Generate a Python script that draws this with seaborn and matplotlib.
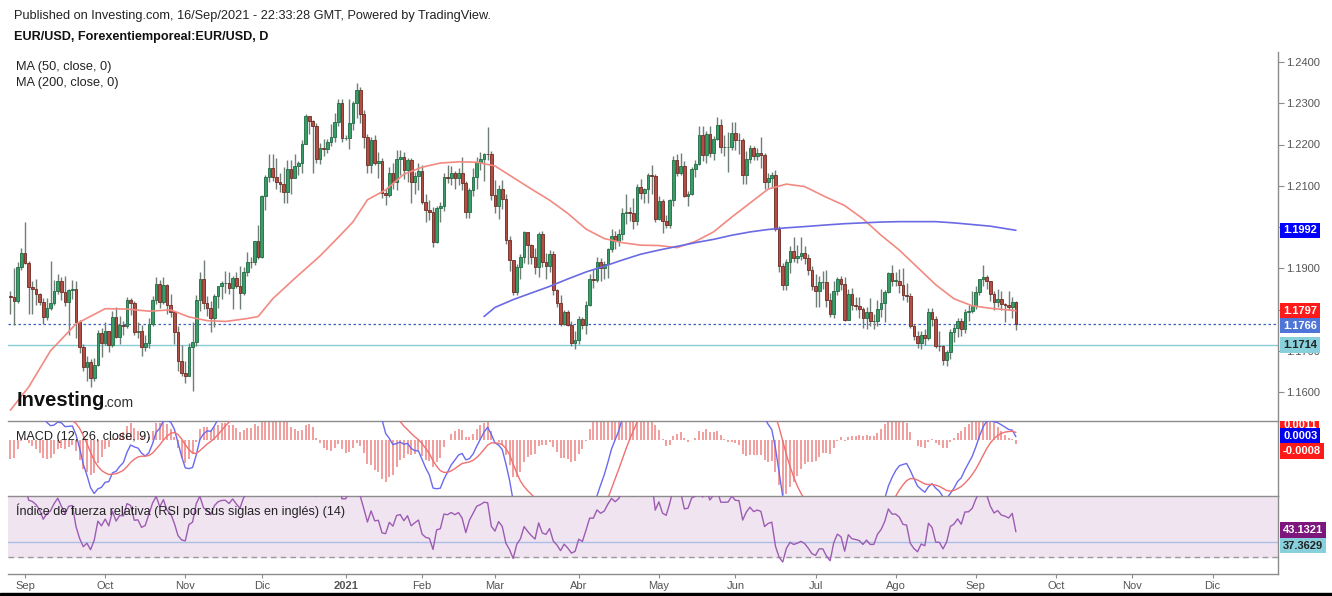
import numpy as np
import pandas as pd
import matplotlib
matplotlib.use("Agg")
import matplotlib.pyplot as plt
from matplotlib.patches import Rectangle
import seaborn as sns

# ---------------------------------------------------------------- data
START_DATE = "2020-08-26"
END_DATE = "2021-09-16"
AXIS_END_DATE = "2021-12-31"
FIRST_OPEN = 1.1832

close = [
    1.1830, 1.1821, 1.1904, 1.1938,
    1.1912, 1.1854, 1.1849, 1.1838, 1.1819, 1.1781, 1.1803, 1.1815, 1.1846, 1.1870, 1.1843,
    1.1817, 1.1847, 1.1850, 1.1770, 1.1710, 1.1661, 1.1673, 1.1633, 1.1665, 1.1742, 1.1718,
    1.1748, 1.1714, 1.1783, 1.1734, 1.1762, 1.1760, 1.1823, 1.1815, 1.1746, 1.1748, 1.1710,
    1.1718, 1.1766, 1.1823, 1.1863, 1.1819, 1.1859, 1.1811, 1.1795, 1.1746, 1.1674, 1.1645,
    1.1639, 1.1710, 1.1722, 1.1823, 1.1874, 1.1815, 1.1803, 1.1779, 1.1832, 1.1856, 1.1864,
    1.1865, 1.1852, 1.1876, 1.1857, 1.1841, 1.1892, 1.1916, 1.1914, 1.1965, 1.1928,
    1.2074, 1.2122, 1.2144, 1.2122, 1.2110, 1.2105, 1.2084, 1.2141, 1.2118, 1.2147, 1.2155,
    1.2202, 1.2269, 1.2258, 1.2245, 1.2164, 1.2191, 1.2190, 1.2207, 1.2219, 1.2254, 1.2300, 1.2215,
    1.2215, 1.2252, 1.2300, 1.2331, 1.2274, 1.2219, 1.2151, 1.2211, 1.2156, 1.2159, 1.2083,
    1.2078, 1.2132, 1.2110, 1.2164, 1.2169, 1.2138, 1.2162, 1.2110, 1.2124, 1.2136,
    1.2061, 1.2041, 1.2036, 1.1964, 1.2045, 1.2050, 1.2122, 1.2119, 1.2130, 1.2120,
    1.2130, 1.2106, 1.2037, 1.2090, 1.2122, 1.2158, 1.2166, 1.2178, 1.2176, 1.2077,
    1.2051, 1.2091, 1.2067, 1.1968, 1.1920, 1.1843, 1.1903, 1.1928, 1.1988, 1.1956, 1.1928,
    1.1904, 1.1983, 1.1916, 1.1906, 1.1934, 1.1847, 1.1815, 1.1766, 1.1795, 1.1763, 1.1720, 1.1727,
    1.1778, 1.1762, 1.1812, 1.1873, 1.1872, 1.1916, 1.1900, 1.1911, 1.1947, 1.1979, 1.1966,
    1.1983, 1.2035, 1.2036, 1.2033, 1.2015, 1.2097, 1.2083, 1.2091, 1.2126, 1.2123, 1.2020,
    1.2062, 1.2014, 1.2004, 1.2065, 1.2163, 1.2131, 1.2149, 1.2075, 1.2079, 1.2140, 1.2152,
    1.2223, 1.2175, 1.2226, 1.2180, 1.2214, 1.2248, 1.2193, 1.2193, 1.2194, 1.2229,
    1.2212, 1.2211, 1.2127, 1.2166, 1.2191, 1.2172, 1.2179, 1.2174, 1.2108, 1.2120, 1.2125,
    1.1995, 1.1906, 1.1860, 1.1915, 1.1941, 1.1925, 1.1930, 1.1937, 1.1924, 1.1895, 1.1858,
    1.1846, 1.1866, 1.1866, 1.1822, 1.1790, 1.1845, 1.1875, 1.1861, 1.1775, 1.1837, 1.1812,
    1.1808, 1.1802, 1.1780, 1.1794, 1.1771, 1.1771, 1.1801, 1.1816, 1.1842, 1.1888, 1.1870,
    1.1870, 1.1860, 1.1836, 1.1833, 1.1761, 1.1735, 1.1718, 1.1738, 1.1730, 1.1795, 1.1778,
    1.1712, 1.1711, 1.1677, 1.1697, 1.1746, 1.1754, 1.1772, 1.1752, 1.1795, 1.1796, 1.1808,
    1.1843, 1.1874, 1.1880, 1.1868, 1.1838, 1.1818, 1.1826, 1.1813, 1.1810, 1.1805, 1.1817, 1.1764,
]

high = [
    1.1845, 1.1901, 1.1916, 1.1950,
    1.2011, 1.1917, 1.1870, 1.1873, 1.1840, 1.1829, 1.1827, 1.1917, 1.1872, 1.1887, 1.1878,
    1.1882, 1.1850, 1.1871, 1.1870, 1.1775, 1.1716, 1.1688, 1.1679, 1.1683, 1.1750, 1.1754,
    1.1770, 1.1742, 1.1797, 1.1806, 1.1784, 1.1772, 1.1831, 1.1829, 1.1820, 1.1770, 1.1763,
    1.1738, 1.1779, 1.1833, 1.1880, 1.1871, 1.1880, 1.1861, 1.1838, 1.1797, 1.1760, 1.1713,
    1.1675, 1.1720, 1.1770, 1.1834, 1.1891, 1.1920, 1.1833, 1.1820, 1.1838, 1.1858, 1.1870,
    1.1893, 1.1891, 1.1881, 1.1890, 1.1906, 1.1904, 1.1940, 1.1928, 1.1965, 1.2004,
    1.2077, 1.2127, 1.2176, 1.2178, 1.2167, 1.2130, 1.2146, 1.2163, 1.2163, 1.2177, 1.2161,
    1.2212, 1.2273, 1.2270, 1.2260, 1.2252, 1.2203, 1.2213, 1.2213, 1.2250, 1.2276, 1.2310, 1.2310,
    1.2222, 1.2310, 1.2305, 1.2349, 1.2340, 1.2283, 1.2226, 1.2218, 1.2223, 1.2182, 1.2167,
    1.2095, 1.2145, 1.2154, 1.2187, 1.2187, 1.2183, 1.2167, 1.2168, 1.2133, 1.2155,
    1.2150, 1.2081, 1.2065, 1.2049, 1.2050, 1.2060, 1.2130, 1.2150, 1.2149, 1.2136,
    1.2144, 1.2169, 1.2112, 1.2095, 1.2144, 1.2169, 1.2181, 1.2180, 1.2243, 1.2184,
    1.2114, 1.2103, 1.2114, 1.2080, 1.1978, 1.1920, 1.1910, 1.1934, 1.1990, 1.1989, 1.1958,
    1.1948, 1.1989, 1.1990, 1.1937, 1.1944, 1.1941, 1.1850, 1.1834, 1.1799, 1.1799, 1.1771, 1.1747,
    1.1785, 1.1783, 1.1820, 1.1887, 1.1897, 1.1928, 1.1926, 1.1918, 1.1949, 1.1996, 1.1990,
    1.1995, 1.2047, 1.2080, 1.2049, 1.2070, 1.2104, 1.2116, 1.2094, 1.2130, 1.2150, 1.2128,
    1.2075, 1.2067, 1.2030, 1.2069, 1.2171, 1.2177, 1.2180, 1.2160, 1.2088, 1.2146, 1.2162,
    1.2245, 1.2244, 1.2233, 1.2244, 1.2221, 1.2266, 1.2262, 1.2223, 1.2230, 1.2254,
    1.2254, 1.2229, 1.2216, 1.2185, 1.2200, 1.2196, 1.2192, 1.2218, 1.2180, 1.2131, 1.2134,
    1.2139, 1.2003, 1.1913, 1.1922, 1.1955, 1.1975, 1.1956, 1.1975, 1.1954, 1.1935, 1.1905,
    1.1885, 1.1882, 1.1894, 1.1895, 1.1840, 1.1868, 1.1880, 1.1881, 1.1880, 1.1849, 1.1852,
    1.1830, 1.1830, 1.1805, 1.1805, 1.1829, 1.1790, 1.1823, 1.1849, 1.1848, 1.1892, 1.1909,
    1.1892, 1.1899, 1.1900, 1.1864, 1.1840, 1.1765, 1.1749, 1.1748, 1.1752, 1.1804, 1.1804,
    1.1785, 1.1749, 1.1714, 1.1703, 1.1752, 1.1765, 1.1780, 1.1779, 1.1802, 1.1810, 1.1846,
    1.1857, 1.1875, 1.1909, 1.1884, 1.1870, 1.1845, 1.1850, 1.1845, 1.1815, 1.1845, 1.1830, 1.1820,
]

low = [
    1.1790, 1.1763, 1.1815, 1.1896,
    1.1910, 1.1789, 1.1790, 1.1811, 1.1810, 1.1765, 1.1774, 1.1799, 1.1810, 1.1838, 1.1822,
    1.1809, 1.1737, 1.1826, 1.1731, 1.1694, 1.1652, 1.1627, 1.1612, 1.1627, 1.1662, 1.1685,
    1.1713, 1.1696, 1.1709, 1.1731, 1.1716, 1.1737, 1.1756, 1.1786, 1.1739, 1.1731, 1.1688,
    1.1700, 1.1707, 1.1760, 1.1813, 1.1804, 1.1813, 1.1790, 1.1782, 1.1717, 1.1650, 1.1640,
    1.1622, 1.1638, 1.1603, 1.1711, 1.1797, 1.1801, 1.1785, 1.1745, 1.1757, 1.1803, 1.1825,
    1.1840, 1.1838, 1.1801, 1.1851, 1.1801, 1.1835, 1.1882, 1.1900, 1.1909, 1.1923,
    1.1924, 1.2041, 1.2110, 1.2111, 1.2092, 1.2084, 1.2058, 1.2059, 1.2080, 1.2118, 1.2125,
    1.2131, 1.2202, 1.2226, 1.2130, 1.2154, 1.2153, 1.2171, 1.2180, 1.2196, 1.2207, 1.2245, 1.2205,
    1.2210, 1.2190, 1.2235, 1.2264, 1.2252, 1.2192, 1.2131, 1.2130, 1.2150, 1.2120, 1.2070,
    1.2054, 1.2073, 1.2093, 1.2090, 1.2126, 1.2116, 1.2108, 1.2058, 1.2080, 1.2089,
    1.2056, 1.2011, 1.2016, 1.1952, 1.1961, 1.2012, 1.2040, 1.2107, 1.2101, 1.2091,
    1.2103, 1.2090, 1.2022, 1.2023, 1.2075, 1.2091, 1.2137, 1.2111, 1.2163, 1.2065,
    1.2033, 1.2019, 1.2043, 1.1958, 1.1893, 1.1835, 1.1836, 1.1875, 1.1912, 1.1910, 1.1910,
    1.1887, 1.1880, 1.1902, 1.1873, 1.1890, 1.1836, 1.1806, 1.1761, 1.1763, 1.1761, 1.1712, 1.1704,
    1.1717, 1.1752, 1.1741, 1.1808, 1.1853, 1.1867, 1.1870, 1.1873, 1.1876, 1.1940, 1.1947,
    1.1953, 1.1968, 1.2008, 1.2014, 1.1995, 1.2004, 1.2069, 1.2058, 1.2058, 1.2080, 1.2013,
    1.2016, 1.1986, 1.1998, 1.1998, 1.2050, 1.2123, 1.2125, 1.2072, 1.2051, 1.2077, 1.2121,
    1.2150, 1.2160, 1.2155, 1.2169, 1.2162, 1.2210, 1.2179, 1.2172, 1.2133, 1.2186,
    1.2187, 1.2176, 1.2104, 1.2104, 1.2156, 1.2162, 1.2162, 1.2144, 1.2093, 1.2092, 1.2095,
    1.1990, 1.1891, 1.1847, 1.1848, 1.1888, 1.1914, 1.1912, 1.1920, 1.1910, 1.1883, 1.1847,
    1.1807, 1.1807, 1.1849, 1.1806, 1.1781, 1.1780, 1.1836, 1.1847, 1.1772, 1.1780, 1.1800,
    1.1800, 1.1779, 1.1755, 1.1752, 1.1760, 1.1752, 1.1760, 1.1781, 1.1770, 1.1840, 1.1856,
    1.1858, 1.1840, 1.1822, 1.1817, 1.1756, 1.1727, 1.1707, 1.1705, 1.1715, 1.1727, 1.1759,
    1.1707, 1.1700, 1.1665, 1.1664, 1.1680, 1.1722, 1.1734, 1.1735, 1.1742, 1.1771, 1.1791,
    1.1801, 1.1835, 1.1857, 1.1850, 1.1820, 1.1800, 1.1805, 1.1800, 1.1770, 1.1800, 1.1780, 1.1751,
]

ma50_dates = [
    "2020-08-26", "2020-09-02", "2020-09-10", "2020-09-21", "2020-10-01", "2020-10-09",
    "2020-10-19", "2020-10-27", "2020-11-03", "2020-11-10", "2020-11-17", "2020-11-25",
    "2020-11-30", "2020-12-04", "2020-12-14", "2020-12-23", "2020-12-30", "2021-01-05",
    "2021-01-11", "2021-01-18", "2021-01-25", "2021-02-01", "2021-02-08", "2021-02-15",
    "2021-02-22", "2021-03-01", "2021-03-08", "2021-03-15", "2021-03-22", "2021-03-29",
    "2021-04-05", "2021-04-12", "2021-04-19", "2021-04-26", "2021-05-03", "2021-05-10",
    "2021-05-17", "2021-05-24", "2021-05-31", "2021-06-07", "2021-06-14", "2021-06-21",
    "2021-06-28", "2021-07-06", "2021-07-13", "2021-07-20", "2021-07-27", "2021-08-03",
    "2021-08-10", "2021-08-17", "2021-08-24", "2021-08-31", "2021-09-07", "2021-09-16",
]
ma50_values = [
    1.1556, 1.1612, 1.1700, 1.1765, 1.1802, 1.1801,
    1.1796, 1.1799, 1.1782, 1.1773, 1.1771, 1.1778,
    1.1783, 1.1826, 1.1875, 1.1930, 1.1975, 1.2012,
    1.2066, 1.2090, 1.2128, 1.2145, 1.2155, 1.2158,
    1.2157, 1.2148, 1.2120, 1.2092, 1.2065, 1.2033,
    1.1995, 1.1972, 1.1962, 1.1956, 1.1955, 1.1950,
    1.1965, 1.1988, 1.2024, 1.2058, 1.2092, 1.2104,
    1.2098, 1.2072, 1.2052, 1.2020, 1.1980, 1.1944,
    1.1902, 1.1860, 1.1826, 1.1809, 1.1803, 1.1797,
]

ma200_dates = [
    "2021-02-24", "2021-03-01", "2021-03-08", "2021-03-15", "2021-03-22", "2021-03-29",
    "2021-04-05", "2021-04-12", "2021-04-19", "2021-04-26", "2021-05-03", "2021-05-10",
    "2021-05-17", "2021-05-24", "2021-05-31", "2021-06-07", "2021-06-14", "2021-06-21",
    "2021-06-28", "2021-07-06", "2021-07-13", "2021-07-20", "2021-07-27", "2021-08-03",
    "2021-08-10", "2021-08-17", "2021-08-24", "2021-08-31", "2021-09-07", "2021-09-16",
]
ma200_values = [
    1.1783, 1.1805, 1.1824, 1.1840, 1.1856, 1.1874,
    1.1891, 1.1905, 1.1920, 1.1934, 1.1944, 1.1953,
    1.1962, 1.1970, 1.1980, 1.1988, 1.1994, 1.1998,
    1.2001, 1.2005, 1.2008, 1.2010, 1.2012, 1.2013,
    1.2013, 1.2013, 1.2010, 1.2006, 1.2002, 1.1992,
]

month_labels = ["Sep", "Oct", "Nov", "Dic", "2021", "Feb", "Mar", "Abr", "May",
                "Jun", "Jul", "Ago", "Sep", "Oct", "Nov", "Dic"]
price_ticks = [1.16, 1.17, 1.18, 1.19, 1.20, 1.21, 1.22, 1.23, 1.24]
# tick labels that sit fully behind a coloured value box in the reference
hidden_tick_labels = [1.18, 1.20]

# indicator states carried in from before the first visible bar
EMA12_SEED, EMA26_SEED, SIGNAL_SEED = 1.1822, 1.1790, 0.0047
RSI_GAIN_SEED, RSI_LOSS_SEED = 0.0020, 0.0012

last_price_level = 1.1766
support_level = 1.1714
rsi_ref_level = 37.3629
rsi_band = (30, 70)

main_labels = [("1.1992", 1.1992, "#0000ff", "white"),
               ("1.1797", 1.1797, "#ff1a1a", "white"),
               ("1.1766", 1.1766, "#5075d8", "white"),
               ("1.1714", 1.1714, "#88d0dc", "#222222")]
macd_labels = [("0.0011", 0.0011, "#ff1a1a", "white"),
               ("0.0003", 0.0003, "#0000ee", "white"),
               ("-0.0008", -0.0008, "#ff1a1a", "white")]
rsi_labels = [("43.1321", 43.1321, "#7d167d", "white"),
              ("37.3629", 37.3629, "#88d0dc", "#222222")]

header_1 = "Published on Investing.com, 16/Sep/2021 - 22:33:28 GMT, Powered by TradingView."
header_2 = "EUR/USD, Forexentiemporeal:EUR/USD, D"
ma_titles = ["MA (50, close, 0)", "MA (200, close, 0)"]
macd_title = "MACD (12, 26, close, 9)"
rsi_title = "Índice de fuerza relativa (RSI por sus siglas en inglés) (14)"

# ---------------------------------------------------------------- style
sns.set_theme(style="white")
plt.rcParams["font.family"] = ["Liberation Sans", "DejaVu Sans"]

GREEN, GREEN_EDGE = "#3a9d68", "#1f6b43"
RED, RED_EDGE = "#b24e44", "#6e2922"
WICK = "#6f7f76"
AXIS_C = "#8c8c8c"
TEXT_C = "#555555"
# vertical nudges (points) that keep neighbouring value boxes apart, as in the reference
LABEL_NUDGE = {"1.1766": -1.5, "37.3629": -2.8}

W, H = 1332, 596
fig = plt.figure(figsize=(W / 100, H / 100), dpi=100)
fig.patch.set_facecolor("white")


def rect(x0, y0, x1, y1):
    return [x0 / W, 1 - y1 / H, (x1 - x0) / W, (y1 - y0) / H]


ax = fig.add_axes(rect(8, 52, 1278, 421))
axm = fig.add_axes(rect(8, 421, 1278, 496))
axr = fig.add_axes(rect(8, 496, 1278, 574))

# ---------------------------------------------------------------- series
dates = pd.bdate_range(START_DATE, END_DATE)
full_dates = pd.bdate_range(START_DATE, AXIS_END_DATE)
x = np.arange(len(dates))
c = np.array(close)
o = np.r_[FIRST_OPEN, c[:-1]]
h = np.maximum(np.array(high), np.maximum(o, c))
l = np.minimum(np.array(low), np.minimum(o, c))

s = pd.Series(c)
ema12 = pd.concat([pd.Series([EMA12_SEED]), s]).ewm(span=12, adjust=False).mean().iloc[1:].values
ema26 = pd.concat([pd.Series([EMA26_SEED]), s]).ewm(span=26, adjust=False).mean().iloc[1:].values
macd = ema12 - ema26
signal = pd.concat([pd.Series([SIGNAL_SEED]), pd.Series(macd)]).ewm(span=9, adjust=False).mean().iloc[1:].values
hist = macd - signal

delta = c - o
gain = pd.concat([pd.Series([RSI_GAIN_SEED]), pd.Series(np.clip(delta, 0, None))])
loss = pd.concat([pd.Series([RSI_LOSS_SEED]), pd.Series(np.clip(-delta, 0, None))])
ag = gain.ewm(alpha=1 / 14, adjust=False).mean().iloc[1:].values
al = loss.ewm(alpha=1 / 14, adjust=False).mean().iloc[1:].values
rsi = 100 - 100 / (1 + ag / al)

# ---------------------------------------------------------------- layout constants
BAR_PX = 3.643
p_sep1 = full_dates.get_loc(pd.Timestamp("2020-09-01"))
xlim = (p_sep1 - (25 - 8) / BAR_PX, p_sep1 + (1278 - 25) / BAR_PX)
PX_PER_PRICE = 4125.0
ax.set_ylim(1.24 - (421 - 62) / PX_PER_PRICE, 1.24 + (62 - 52) / PX_PER_PRICE)
MACD_PX = 13900.0
axm.set_ylim(-(496 - 440) / MACD_PX, (440 - 421) / MACD_PX)
RSI_PX = 2.0
axr.set_ylim(30 - (574 - 556.5) / RSI_PX, 30 + (556.5 - 496) / RSI_PX)
for a in (ax, axm, axr):
    a.set_xlim(*xlim)

# ---------------------------------------------------------------- main panel
ax.vlines(x, l, h, color=WICK, lw=1.0, zorder=2)
up = c >= o
body = np.maximum(np.abs(c - o), 0.00006)
ax.bar(x[up], body[up], bottom=np.minimum(o, c)[up], width=0.74, color=GREEN,
       edgecolor=GREEN_EDGE, linewidth=0.6, zorder=3)
ax.bar(x[~up], body[~up], bottom=np.minimum(o, c)[~up], width=0.74, color=RED,
       edgecolor=RED_EDGE, linewidth=0.6, zorder=3)

ma50_x = full_dates.get_indexer(pd.to_datetime(ma50_dates))
ma200_x = full_dates.get_indexer(pd.to_datetime(ma200_dates))
sns.lineplot(x=ma50_x, y=ma50_values, ax=ax, color="#f28a82", linewidth=1.2, zorder=4)
sns.lineplot(x=ma200_x, y=ma200_values, ax=ax, color="#6a6ae4", linewidth=1.2, zorder=4)

ax.axhline(last_price_level, color="#3d5fc4", lw=0.9, ls=(0, (2, 2)), zorder=1)
ax.axhline(support_level, color="#86cdd9", lw=1.0, zorder=1)

# ---------------------------------------------------------------- MACD panel
axm.vlines(x, 0, hist, color="#ee8383", lw=1.1, zorder=2)
sns.lineplot(x=x, y=macd, ax=axm, color="#6a6aee", linewidth=1.0, zorder=3)
sns.lineplot(x=x, y=signal, ax=axm, color="#f07070", linewidth=1.0, zorder=3)

# ---------------------------------------------------------------- RSI panel
axr.axhspan(rsi_band[0], rsi_band[1], color="#f1e4f1", zorder=0)
axr.axhline(rsi_band[0], color="#9a9a9a", lw=1.0, ls=(0, (4, 3)), zorder=1)
axr.axhline(rsi_ref_level, color="#a9bfe6", lw=1.0, zorder=1)
sns.lineplot(x=x, y=rsi, ax=axr, color="#9c5cb2", linewidth=1.0, zorder=3)

# ---------------------------------------------------------------- axes styling
for a in (ax, axm, axr):
    a.set_facecolor("none")
    a.grid(False)
    a.set_xlabel("")
    a.set_ylabel("")
    if a.get_legend() is not None:
        a.get_legend().remove()
    for side in ("left", "top", "bottom"):
        a.spines[side].set_visible(False)
    a.spines["right"].set_visible(True)
    a.spines["right"].set_color(AXIS_C)
    a.spines["right"].set_linewidth(1.0)

axm.spines["top"].set_visible(True)
axr.spines["top"].set_visible(True)
axr.spines["bottom"].set_visible(True)
for a, sp in ((axm, "top"), (axr, "top"), (axr, "bottom")):
    a.spines[sp].set_color(AXIS_C)
    a.spines[sp].set_linewidth(1.0)

ax.yaxis.tick_right()
ax.set_yticks(price_ticks)
ax.set_yticklabels(["" if any(abs(v - hv) < 1e-9 for hv in hidden_tick_labels) else f"{v:.4f}"
                    for v in price_ticks])
ax.tick_params(axis="y", which="both", right=True, left=False, length=4, width=0.8,
               color=AXIS_C, labelcolor=TEXT_C, labelsize=8, pad=2)
for a in (axm, axr):
    a.set_yticks([])

month_starts = full_dates.to_series().groupby([full_dates.year, full_dates.month]).first()
month_pos = full_dates.get_indexer(pd.DatetimeIndex(month_starts.values))
month_pos = [p for p, d in zip(month_pos, month_starts.values) if pd.Timestamp(d) >= pd.Timestamp("2020-09-01")]
for a in (ax, axm):
    a.set_xticks([])
axr.set_xticks(month_pos)
axr.set_xticklabels(month_labels)
axr.tick_params(axis="x", bottom=True, length=3, width=0.8, color=AXIS_C,
                labelcolor=TEXT_C, labelsize=8, pad=2)
axr.get_xticklabels()[4].set_fontweight("bold")


# ---------------------------------------------------------------- right-side value labels
def value_label(a, text, val, fc, tc, clip=None):
    t = a.annotate(text, xy=(1, val), xycoords=("axes fraction", "data"),
                   xytext=(3.6, LABEL_NUDGE.get(text, 0)), textcoords="offset points",
                   ha="left", va="center",
                   fontsize=8, fontweight="bold", color=tc, zorder=10,
                   bbox=dict(boxstyle="square,pad=0.25", fc=fc, ec="none"),
                   annotation_clip=False)
    if clip is not None:
        t.set_clip_on(True)
        t.set_clip_path(clip)
    else:
        t.set_clip_on(False)
    return t


for txt, v, fc, tc in main_labels:
    value_label(ax, txt, v, fc, tc)

macd_clip = Rectangle((1278 / W, 1 - 496 / H), 54 / W, 75 / H, transform=fig.transFigure)
for txt, v, fc, tc in macd_labels:
    value_label(axm, txt, v, fc, tc, clip=macd_clip)
for txt, v, fc, tc in rsi_labels:
    value_label(axr, txt, v, fc, tc)


# ---------------------------------------------------------------- texts
def ftext(px, py, s, **kw):
    return fig.text(px / W, 1 - py / H, s, va="center", ha="left", **kw)


ftext(14, 16, header_1, fontsize=9.2, color="#222222")
ftext(14, 37, header_2, fontsize=9.1, color="#111111", fontweight="bold")
ftext(16, 67, ma_titles[0], fontsize=9.2, color="#222222")
ftext(16, 83, ma_titles[1], fontsize=9.2, color="#222222")
ftext(16, 437, macd_title, fontsize=9.1, color="#222222")
ftext(16, 511, rsi_title, fontsize=9.1, color="#222222")
ftext(17, 400, "Investing", fontsize=14.5, color="#111111", fontweight="bold")
ftext(104, 403, ".com", fontsize=10, color="#333333")

fig.patches.append(Rectangle((0, 0), 1, 3 / H, transform=fig.transFigure,
                             color="black", zorder=0))

fig.savefig("out.png", dpi=100, facecolor="white")
